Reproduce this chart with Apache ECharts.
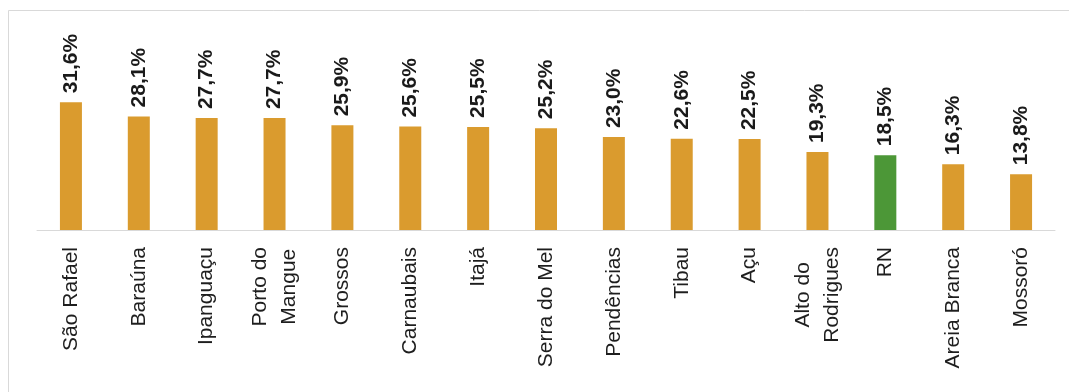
<!DOCTYPE html>
<html>
<head>
<meta charset="utf-8">
<script src="https://cdn.jsdelivr.net/npm/echarts@6/dist/echarts.min.js"></script>
<style>
html,body{margin:0;padding:0;background:#fff;}
#chart{width:1069px;height:392px;}
</style>
</head>
<body>
<div id="chart"></div>
<script>
var categories = ['São Rafael', 'Baraúna', 'Ipanguaçu', 'Porto do\nMangue', 'Grossos', 'Carnaubais', 'Itajá', 'Serra do Mel', 'Pendências', 'Tibau', 'Açu', 'Alto do\nRodrigues', 'RN', 'Areia Branca', 'Mossoró'];
var values = [31.6, 28.1, 27.7, 27.7, 25.9, 25.6, 25.5, 25.2, 23.0, 22.6, 22.5, 19.3, 18.5, 16.3, 13.8];
var highlightCategory = 'RN';

var ORANGE = '#DA9B2E';
var GREEN = '#4C9737';
var FONT = '"Liberation Sans", Arial, sans-serif';

var chart = echarts.init(document.getElementById('chart'));
var option = {
  animation: false,
  backgroundColor: '#ffffff',
  graphic: [{
    type: 'rect',
    silent: true,
    shape: {x: 8.5, y: 10.5, width: 1100, height: 420},
    style: {fill: 'none', stroke: '#d9d9d9', lineWidth: 1},
    z: -1
  }],
  grid: {left: 37, right: 14, top: 28, bottom: 162, containLabel: false},
  xAxis: {
    type: 'category',
    data: categories,
    boundaryGap: true,
    axisLine: {show: true, lineStyle: {color: '#d9d9d9', width: 1}},
    axisTick: {show: false},
    axisLabel: {
      interval: 0,
      rotate: 90,
      margin: 17,
      color: '#1e1e1e',
      fontFamily: FONT,
      fontSize: 21,
      formatter: function (v) {
        return v.split('\n').map(function (s) { return '{c|' + s + '}'; }).join('\n');
      },
      rich: {
        c: {align: 'center', fontFamily: FONT, fontSize: 21, lineHeight: 29, color: '#1e1e1e'}
      }
    }
  },
  yAxis: {
    type: 'value',
    min: 0,
    max: 50,
    show: false,
    splitLine: {show: false}
  },
  series: [{
    type: 'bar',
    barWidth: 22,
    data: values.map(function (v, i) {
      return {value: v, itemStyle: {color: categories[i] === highlightCategory ? GREEN : ORANGE}};
    }),
    label: {
      show: true,
      position: 'top',
      rotate: 90,
      align: 'left',
      verticalAlign: 'middle',
      distance: 9,
      color: '#1a1a1a',
      fontFamily: FONT,
      fontWeight: 'bold',
      fontSize: 21,
      formatter: function (p) { return p.value.toFixed(1).replace('.', ',') + '%'; }
    }
  }]
};
chart.setOption(option);
</script>
</body>
</html>
